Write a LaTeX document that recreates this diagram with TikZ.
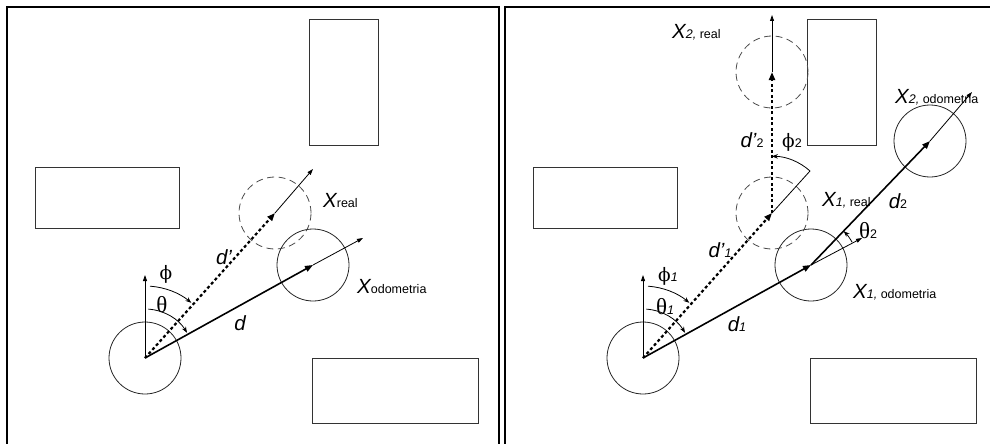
\documentclass[tikz,border=0pt]{standalone}
\usepackage{fontspec}
\setmainfont{Liberation Sans}
\newfontfamily\grkA{DejaVu Serif}
\newfontfamily\grkB{Liberation Serif}
\usetikzlibrary{arrows.meta}
\newcommand\subf{\fontsize{12.5}{13}\selectfont}
\begin{document}
\begin{tikzpicture}[x=1pt,y=1pt,
  frame/.style={line width=1.7pt, draw=black},
  obst/.style={draw=black!80, line width=0.9pt},
  robot/.style={circle, draw=black!85, line width=0.8pt, minimum size=72pt, inner sep=0pt},
  ghost/.style={robot, draw=black!70, dash pattern=on 7pt off 4.5pt},
  dline/.style={line width=1.6pt, -{Triangle[length=8pt,width=6pt]}},
  dotl/.style={line width=2.2pt, dash pattern=on 3pt off 2.5pt, -{Triangle[length=8pt,width=6pt]}},
  head/.style={line width=0.8pt, -{Triangle[length=6pt,width=4pt]}},
  plain/.style={line width=0.8pt},
  ang/.style={line width=0.8pt, -{Stealth[length=6pt,width=4.5pt]}},
  lbl/.style={inner sep=0pt, font=\fontsize{20.5}{22}\selectfont\itshape},
  phis/.style={inner sep=0pt, font=\fontsize{18.5}{22}\selectfont\grkA},
  thes/.style={inner sep=0pt, font=\fontsize{23}{24}\selectfont\grkB}
]
\useasboundingbox (0,0) rectangle (990,-444);
% frames
\draw[frame] (7,-444) -- (7,-7) -- (499,-7) -- (499,-444);
\draw[frame] (505,-444) -- (505,-7) -- (990,-7);
% obstacles left
\draw[obst] (309,-19) rectangle (378,-145);
\draw[obst] (35,-167) rectangle (179,-228);
\draw[obst] (312,-358) rectangle (478,-423);
% obstacles right
\draw[obst] (807,-19) rectangle (876,-145);
\draw[obst] (533,-167) rectangle (677,-228);
\draw[obst] (810,-358) rectangle (976,-423);

% ---------- left panel ----------
\node[robot] (O) at (145,-358) {};
\node[robot] (C) at (313,-265) {};
\node[ghost] (R) at (275,-213) {};
\coordinate (Oup) at (145,-275);
\coordinate (Ch) at (363,-238);
\coordinate (Rh) at (313,-169);
\draw[head] (O.center) -- (Oup);
\draw[dline] (O.center) -- (C.center);
\draw[dotl] (O.center) -- (R.center);
\draw[head] (C.center) -- (Ch);
\draw[head] (R.center) -- (Rh);
\draw[ang] ([shift={(86:72pt)}]O.center) arc[start angle=86,end angle=50,radius=72pt];
\draw[ang] ([shift={(86:49pt)}]O.center) arc[start angle=86,end angle=31,radius=49pt];

\node[phis] (phi) at (166,-274) {ϕ};
\node[thes] (the) at (162,-305) {θ};
\node[lbl] (dp) at (224,-257) {d'};
\node[lbl] (dd) at (240,-323) {d};
\node[lbl, anchor=base west] (xr) at (323,-207) {X{\subf\upshape real}};
\node[lbl, anchor=base west] (xo) at (357,-293) {X{\subf\upshape odometria}};

% ---------- right panel ----------
\node[robot] (O2) at (643,-358) {};
\node[robot] (Q1) at (811,-265) {};
\node[ghost] (P1) at (772,-213) {};
\node[robot] (Q2) at (930,-141) {};
\node[ghost] (P2) at (772,-72) {};
\coordinate (O2up) at (643,-275);
\coordinate (Q1h) at (862,-238);
\coordinate (P1h) at (810,-171);
\coordinate (Q2h) at (972,-92);
\coordinate (P2h) at (772,-15);
\draw[head] (O2.center) -- (O2up);
\draw[dline] (O2.center) -- (Q1.center);
\draw[dotl] (O2.center) -- (P1.center);
\draw[dline] (Q1.center) -- (Q2.center);
\draw[dotl] (P1.center) -- (P2.center);
\draw[head] (Q1.center) -- (Q1h);
\draw[plain] (P1.center) -- (P1h);
\draw[head] (Q2.center) -- (Q2h);
\draw[head] (P2.center) -- (P2h);
\draw[ang] ([shift={(86:72pt)}]O2.center) arc[start angle=86,end angle=50,radius=72pt];
\draw[ang] ([shift={(86:49pt)}]O2.center) arc[start angle=86,end angle=31,radius=49pt];
\draw[ang] ([shift={(29:47pt)}]Q1.center) arc[start angle=29,end angle=46,radius=47pt];
\draw[ang] (P1h) arc[start angle=48,end angle=90,radius=57pt];

\node[phis] (phi1) at (668,-276) {ϕ{\normalfont\subf\itshape 1}};
\node[thes] (the1) at (665,-307) {θ{\normalfont\subf\itshape 1}};
\node[lbl] (dp1) at (720,-250) {d'{\subf 1}};
\node[lbl] (d1) at (737,-324) {d{\subf 1}};
\node[lbl] (d2) at (898,-201) {d{\subf\upshape 2}};
\node[lbl] (dp2) at (752,-140) {d'{\subf\upshape 2}};
\node[phis] (phi2) at (792,-142) {ϕ{\normalfont\subf 2}};
\node[thes] (the2) at (868,-231) {θ{\normalfont\subf 2}};
\node[lbl, anchor=base west] (x1r) at (822,-206) {X{\subf 1,\upshape\ real}};
\node[lbl, anchor=base west] (x1o) at (853,-298) {X{\subf 1,\upshape\ odometria}};
\node[lbl, anchor=base west] (x2r) at (672,-38) {X{\subf 2,\upshape\ real}};
\node[lbl, anchor=base west] (x2o) at (895,-103) {X{\subf 2,\upshape\ odometria}};
\end{tikzpicture}
\end{document}
